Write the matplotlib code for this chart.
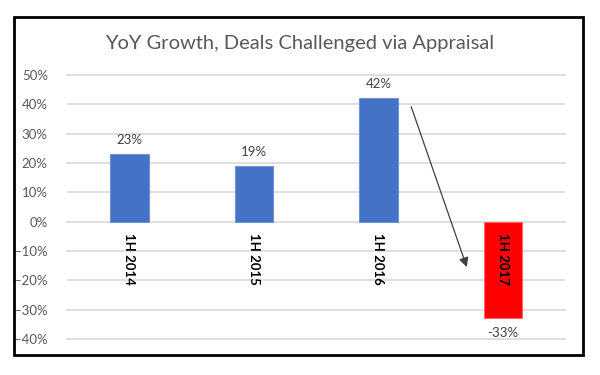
import matplotlib.pyplot as plt
from matplotlib.patches import Rectangle
from matplotlib.ticker import PercentFormatter

periods = ["1H 2014", "1H 2015", "1H 2016", "1H 2017"]
growth = [0.23, 0.19, 0.42, -0.33]
bar_colors = ["#4472C4", "#4472C4", "#4472C4", "#FF0000"]
edge_colors = ["#6F93D6", "#6F93D6", "#6F93D6", "#FF6666"]
yticks = [-0.4, -0.3, -0.2, -0.1, 0.0, 0.1, 0.2, 0.3, 0.4, 0.5]

plt.rcParams["font.family"] = ["Lato", "DejaVu Sans"]

fig = plt.figure(figsize=(6, 3.75), dpi=100)
ax = fig.add_axes([0.112, 0.096, 0.83, 0.704])

x = range(len(periods))
ax.bar(x, growth, width=0.31, color=bar_colors, edgecolor=edge_colors,
       linewidth=0.8, zorder=3)

ax.set_xlim(-0.5, 3.5)
ax.set_ylim(-0.4, 0.5)
ax.set_yticks(yticks)
ax.yaxis.set_major_formatter(PercentFormatter(1.0, decimals=0))
ax.tick_params(axis="y", length=0, labelsize=9.5, labelcolor="#595959", pad=14)
ax.set_xticks([])
ax.grid(axis="y", color="#D9D9D9", linewidth=1.2, zorder=0)
for gl in ax.get_ygridlines():
    gl.set_clip_on(False)
for s in ax.spines.values():
    s.set_visible(False)

# data labels
for i, v in enumerate(growth):
    off = 6 if v >= 0 else -6
    ax.annotate(f"{v:.0%}", (i, v), xytext=(0, off), textcoords="offset points",
                ha="center", va="bottom" if v >= 0 else "top",
                fontsize=9.5, color="#404040")

# category labels just under the zero line
for i, p in enumerate(periods):
    ax.annotate(p, (i, 0), xytext=(0, -8), textcoords="offset points",
                ha="center", va="top", rotation=270, fontsize=9.5,
                color="black", fontweight="bold")

# trend arrow
ax.annotate("", xy=(2.71, -0.155), xytext=(2.263, 0.392),
            arrowprops=dict(arrowstyle="-|>", color="#404040", lw=0.9,
                            mutation_scale=14, shrinkA=0, shrinkB=0))

fig.text(0.5, 0.885, "YoY Growth, Deals Challenged via Appraisal",
         ha="center", va="center", fontsize=14.5, color="#595959")

# outer frame
fig.patches.append(Rectangle((14 / 600, 1 - 355 / 375), 569 / 600, 338 / 375,
                             transform=fig.transFigure, fill=False,
                             edgecolor="black", linewidth=2))

fig.savefig("out.png", dpi=100)
